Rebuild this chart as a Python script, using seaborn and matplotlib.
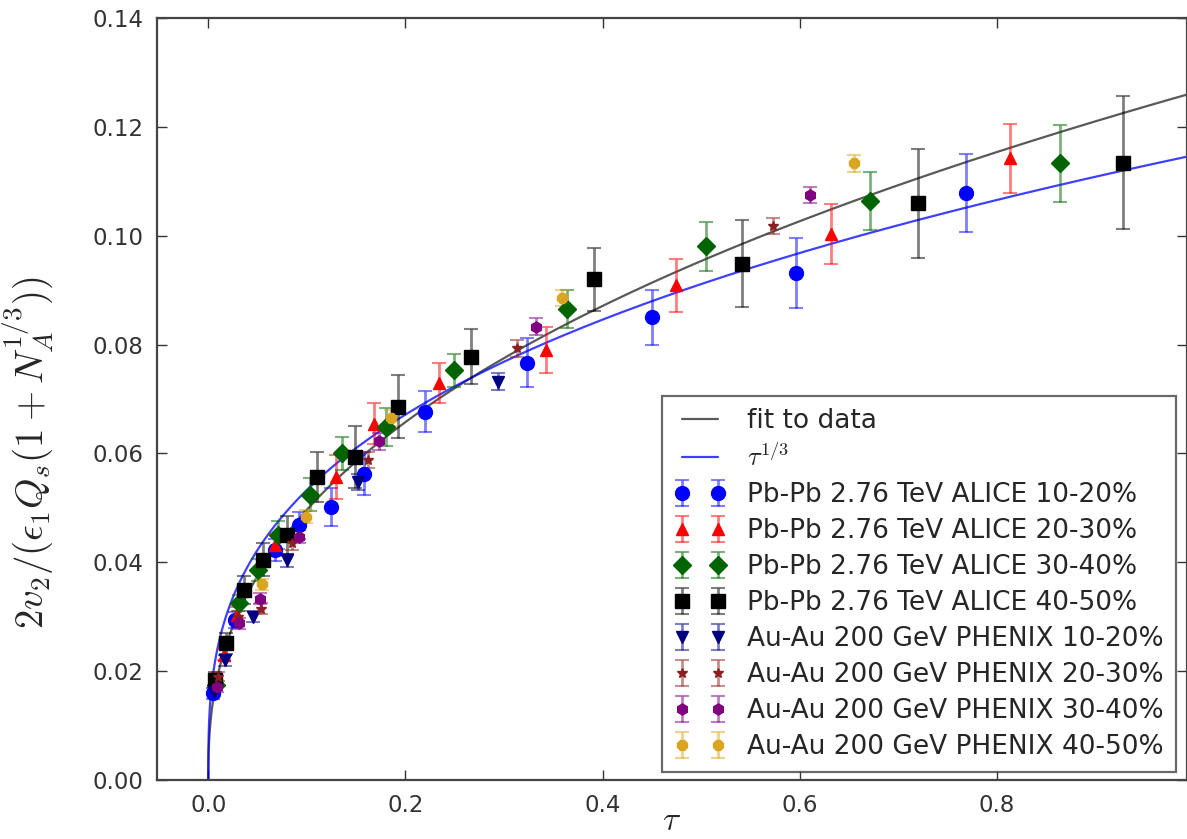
import numpy as np
import pandas as pd
import matplotlib
matplotlib.use('Agg')
import matplotlib.pyplot as plt
import seaborn as sns

# fit parameters: y = amp * tau**power
fit_amp, fit_power = 0.1263, 0.4055
third_amp = 0.1148

# ALICE Pb-Pb 2.76 TeV
alice_10_tau = [0.005, 0.027, 0.068, 0.092, 0.124, 0.158, 0.220, 0.323, 0.450, 0.596, 0.769]
alice_10_y = [0.0159, 0.0294, 0.0423, 0.0468, 0.0502, 0.0563, 0.0677, 0.0767, 0.0850, 0.0931, 0.1078]
alice_10_err = [0.0010, 0.0015, 0.0020, 0.0025, 0.0035, 0.0040, 0.0037, 0.0045, 0.0051, 0.0064, 0.0072]

alice_20_tau = [0.016, 0.029, 0.068, 0.130, 0.168, 0.234, 0.343, 0.475, 0.632, 0.813]
alice_20_y = [0.0230, 0.0303, 0.0432, 0.0557, 0.0655, 0.0729, 0.0790, 0.0909, 0.1004, 0.1142]
alice_20_err = [0.0010, 0.0015, 0.0020, 0.0041, 0.0037, 0.0037, 0.0042, 0.0049, 0.0055, 0.0064]

alice_30_tau = [0.008, 0.031, 0.050, 0.071, 0.103, 0.136, 0.180, 0.249, 0.364, 0.505, 0.671, 0.864]
alice_30_y = [0.0175, 0.0325, 0.0386, 0.0450, 0.0524, 0.0600, 0.0649, 0.0753, 0.0865, 0.0981, 0.1064, 0.1133]
alice_30_err = [0.0010, 0.0015, 0.0020, 0.0025, 0.0030, 0.0030, 0.0035, 0.0030, 0.0035, 0.0045, 0.0053, 0.0071]

alice_40_tau = [0.007, 0.018, 0.036, 0.055, 0.080, 0.110, 0.149, 0.192, 0.267, 0.391, 0.541, 0.720, 0.928]
alice_40_y = [0.0184, 0.0251, 0.0349, 0.0405, 0.0450, 0.0557, 0.0594, 0.0686, 0.0778, 0.0920, 0.0949, 0.1060, 0.1134]
alice_40_err = [0.0015, 0.0020, 0.0025, 0.0030, 0.0035, 0.0046, 0.0057, 0.0058, 0.0051, 0.0058, 0.0080, 0.0100, 0.0122]

# PHENIX Au-Au 200 GeV
phenix_10_tau = [0.006, 0.017, 0.045, 0.080, 0.152, 0.294]
phenix_10_y = [0.0162, 0.0220, 0.0300, 0.0404, 0.0548, 0.0732]
phenix_10_err = [0.0008, 0.0010, 0.0010, 0.0012, 0.0015, 0.0015]

phenix_20_tau = [0.010, 0.030, 0.053, 0.085, 0.162, 0.313, 0.573]
phenix_20_y = [0.0190, 0.0300, 0.0315, 0.0435, 0.0588, 0.0793, 0.1018]
phenix_20_err = [0.0008, 0.0010, 0.0010, 0.0012, 0.0015, 0.0015, 0.0015]

phenix_30_tau = [0.009, 0.031, 0.052, 0.092, 0.173, 0.333, 0.610]
phenix_30_y = [0.0170, 0.0288, 0.0333, 0.0447, 0.0622, 0.0833, 0.1075]
phenix_30_err = [0.0008, 0.0010, 0.0010, 0.0012, 0.0015, 0.0015, 0.0015]

phenix_40_tau = [0.054, 0.099, 0.185, 0.359, 0.655]
phenix_40_y = [0.0360, 0.0484, 0.0665, 0.0886, 0.1133]
phenix_40_err = [0.0010, 0.0012, 0.0015, 0.0015, 0.0015]

series = [
    ('Pb-Pb 2.76 TeV ALICE 10-20%', alice_10_tau, alice_10_y, alice_10_err, 'o', 'blue', 10),
    ('Pb-Pb 2.76 TeV ALICE 20-30%', alice_20_tau, alice_20_y, alice_20_err, '^', 'red', 9),
    ('Pb-Pb 2.76 TeV ALICE 30-40%', alice_30_tau, alice_30_y, alice_30_err, 'D', 'darkgreen', 9),
    ('Pb-Pb 2.76 TeV ALICE 40-50%', alice_40_tau, alice_40_y, alice_40_err, 's', 'black', 10),
    ('Au-Au 200 GeV PHENIX 10-20%', phenix_10_tau, phenix_10_y, phenix_10_err, 'v', 'navy', 8),
    ('Au-Au 200 GeV PHENIX 20-30%', phenix_20_tau, phenix_20_y, phenix_20_err, '*', '#8b2020', 7),
    ('Au-Au 200 GeV PHENIX 30-40%', phenix_30_tau, phenix_30_y, phenix_30_err, 'h', 'purple', 8),
    ('Au-Au 200 GeV PHENIX 40-50%', phenix_40_tau, phenix_40_y, phenix_40_err, '8', 'goldenrod', 8),
]

sns.set_style('ticks')
plt.rcParams['font.family'] = ['DejaVu Sans']
plt.rcParams['mathtext.fontset'] = 'cm'

fig = plt.figure(figsize=(11.87, 8.39), dpi=100)
ax = fig.add_axes([0.1323, 0.0703, 0.8677, 0.9082])

tau_grid = np.linspace(0, 1, 1500) ** 3
curves = pd.DataFrame({
    'tau': tau_grid,
    'fit': fit_amp * tau_grid ** fit_power,
    'third': third_amp * tau_grid ** (1 / 3),
})
sns.lineplot(data=curves, x='tau', y='fit', ax=ax, color='black', alpha=0.65,
             lw=1.6, label='fit to data', estimator=None, sort=False)
sns.lineplot(data=curves, x='tau', y='third', ax=ax, color='blue', alpha=0.75,
             lw=1.6, label=r'$\tau^{1/3}$', estimator=None, sort=False)

for name, t, y, e, mk, col, ms in series:
    ax.errorbar(t, y, yerr=e, fmt=mk, color=col, ms=ms, ecolor=col, elinewidth=2,
                capsize=5, capthick=1.5, label=name, zorder=3)
    # lighten the error bars like the original
    for c in ax.containers[-1][1:]:
        for art in (c if isinstance(c, tuple) else [c]):
            art.set_alpha(0.5)

ax.set_xlim(-0.052, 0.993)
ax.set_ylim(0, 0.14)
ax.set_xticks([0.0, 0.2, 0.4, 0.6, 0.8])
ax.set_yticks(np.arange(0, 0.141, 0.02))
ax.xaxis.set_major_formatter(matplotlib.ticker.FormatStrFormatter('%.1f'))
ax.yaxis.set_major_formatter(matplotlib.ticker.FormatStrFormatter('%.2f'))
ax.tick_params(direction='in', length=7, width=1, top=True, right=True,
               labelsize=16.5, colors='#333333', pad=10)
for sp in ax.spines.values():
    sp.set_color('#444444')
    sp.set_linewidth(1.6)

ax.set_xlabel(r'$\tau$', fontsize=24, labelpad=-9)
ax.set_ylabel(r'$2v_2/(\epsilon_1 Q_s(1+N_A^{1/3}))$', fontsize=28)
ax.yaxis.set_label_coords(-0.098, 0.43)

leg = ax.legend(loc='lower right', numpoints=2, fontsize=19, fancybox=False,
                frameon=True, borderaxespad=0.3, handlelength=2.0,
                handletextpad=0.8, labelspacing=0.38, borderpad=0.45,
                bbox_to_anchor=(0.997, 0.0))
leg.get_frame().set_edgecolor('#444444')
leg.get_frame().set_linewidth(1.6)

fig.savefig('out.png', dpi=100)
